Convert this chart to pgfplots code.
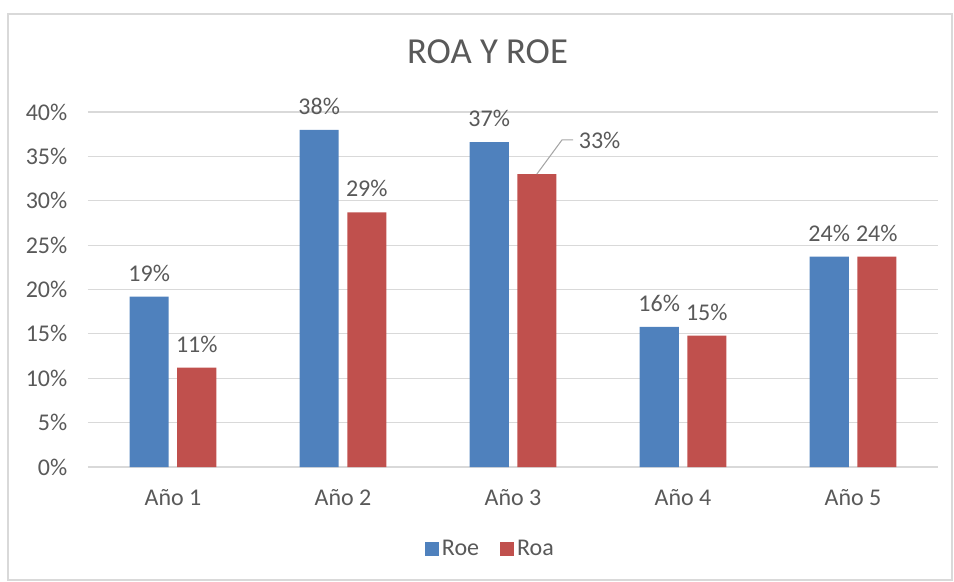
\documentclass[border=0pt]{standalone}
\usepackage{fontspec}
\setmainfont{Carlito}
\usepackage{pgfplots}
\pgfplotsset{compat=1.18}
\definecolor{roe}{HTML}{4F81BD}
\definecolor{roa}{HTML}{C0504D}
\definecolor{txt}{HTML}{595959}
\definecolor{grd}{HTML}{D9D9D9}
\begin{document}
\begin{tikzpicture}
\useasboundingbox (-66pt,-86.25pt) rectangle (649.5pt,350.25pt);
\draw[grd, line width=0.8pt] (-60pt,-84.75pt) rectangle (648pt,339.75pt);
\begin{axis}[
  at={(0,0)}, anchor=south west,
  scale only axis,
  width=637.5pt, height=266.25pt,
  xmin=0.5, xmax=5.5,
  ymin=0, ymax=40,
  ybar,
  bar width=0.23,
  xtick={1,2,3,4,5},
  xticklabels={Año 1,Año 2,Año 3,Año 4,Año 5},
  ytick={0,5,...,40},
  yticklabel={\pgfmathprintnumber{\tick}\%},
  /pgf/number format/assume math mode=true,
  tick style={draw=none},
  axis line style={draw=none},
  ymajorgrids,
  grid style={grd, line width=0.9pt},
  ticklabel style={font=\fontsize{18}{21}\selectfont, text=txt},
  yticklabel style={xshift=-12pt},
  xticklabel style={yshift=-9pt},
  title={ROA Y ROE},
  title style={font=\fontsize{27.5}{32}\selectfont, text=txt, at={(0.47,1.146)}, anchor=center},
  legend style={draw=none, at={(0.474,-0.231)}, anchor=center,
    font=\fontsize{18}{21}\selectfont, text=txt, legend columns=-1,
    /tikz/every even column/.append style={column sep=14pt}},
  legend image code/.code={\fill[#1] (0pt,-5.2pt) rectangle (10.5pt,5.3pt);},
  point meta=explicit symbolic,
  nodes near coords={\pgfplotspointmeta},
  every node near coord/.append style={font=\fontsize{18}{21}\selectfont, text=txt, yshift=8pt},
]
\addplot[fill=roe, draw=none, bar shift=-0.14] coordinates {
  (1,19.2) [19\%] (2,38.0) [38\%] (3,36.6) [37\%] (4,15.8) [16\%] (5,23.7) [24\%]
};
\addlegendentry{Roe}
\addplot[fill=roa, draw=none, bar shift=0.14] coordinates {
  (1,11.2) [11\%] (2,28.7) [29\%] (3,33.0) [{}] (4,14.8) [15\%] (5,23.7) [24\%]
};
\addlegendentry{Roa}
\draw[gray!70, line width=0.8pt] (axis cs:3.14,33) -- (axis cs:3.288,36.85) -- (axis cs:3.353,36.85);
\node[font=\fontsize{18}{21}\selectfont, text=txt, anchor=west] at (axis cs:3.36,36.85) {33\%};
\end{axis}
\end{tikzpicture}
\end{document}
